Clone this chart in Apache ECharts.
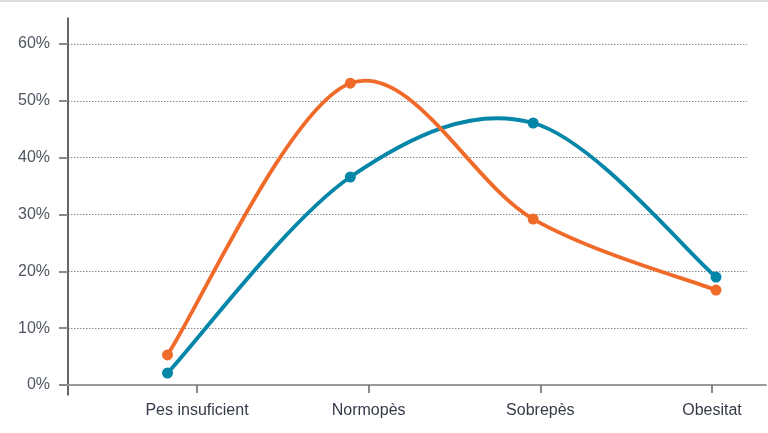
<!DOCTYPE html>
<html>
<head>
<meta charset="utf-8">
<script src="https://cdn.jsdelivr.net/npm/echarts@6/dist/echarts.min.js"></script>
<style>
html,body{margin:0;padding:0;background:#fff;}
#chart{width:768px;height:433px;}
</style>
</head>
<body>
<div id="chart"></div>
<script>
var categories = ['Pes insuficient', 'Normopès', 'Sobrepès', 'Obesitat'];
var seriesOrange = [5.3, 53.1, 29.2, 16.7];
var seriesBlue = [2.1, 36.6, 46.1, 19.0];

var FONT = "'Liberation Sans', Arial, sans-serif";
var BLUE = '#0386a8';
var ORANGE = '#f06a2a';
var chart = echarts.init(document.getElementById('chart'), null, {renderer: 'canvas'});

// Catmull-Rom style smooth segment between point i and i+1, computed from the data through the axes
function splineRenderer(values, color) {
  return function (params, api) {
    var i = params.dataIndex;
    var n = values.length;
    if (i >= n - 1) return null;
    function pt(k) {
      k = Math.max(0, Math.min(n - 1, k));
      return api.coord([k, values[k]]);
    }
    var p0 = pt(i - 1), p1 = pt(i), p2 = pt(i + 1), p3 = pt(i + 2);
    var c1x = p1[0] + (p2[0] - p0[0]) / 6;
    var c1y = p1[1] + (p2[1] - p0[1]) / 6;
    var c2x = p2[0] - (p3[0] - p1[0]) / 6;
    var c2y = p2[1] - (p3[1] - p1[1]) / 6;
    return {
      type: 'bezierCurve',
      shape: {x1: p1[0], y1: p1[1], x2: p2[0], y2: p2[1], cpx1: c1x, cpy1: c1y, cpx2: c2x, cpy2: c2y},
      style: {stroke: color, lineWidth: 3.8, fill: null, lineCap: 'round', lineJoin: 'round'}
    };
  };
}

function indexed(values) {
  return values.map(function (v, i) { return [i, v]; });
}

var option = {
  animation: false,
  backgroundColor: '#ffffff',
  graphic: [{
    type: 'rect', left: 0, top: 0,
    shape: {width: 768, height: 2},
    style: {fill: '#dcdcdc'}, silent: true
  }],
  grid: [
    {left: 68, right: 21, top: 44, bottom: 48},
    {left: 68, right: 2, top: 44, bottom: 48},
    {left: 197, right: 56, top: 44, bottom: 48},
    {left: 68, right: 2, top: 18, bottom: 38},
    {left: 167.5, right: 52, top: 44, bottom: 48}
  ],
  xAxis: [
    {gridIndex: 0, type: 'category', show: false, data: categories},
    {gridIndex: 1, type: 'value', min: 0, max: 1,
      axisLine: {show: true, lineStyle: {color: '#9a9a9a', width: 2}},
      axisTick: {show: false}, axisLabel: {show: false}, splitLine: {show: false}},
    {gridIndex: 2, type: 'category', data: categories, boundaryGap: false,
      axisLine: {show: false},
      axisTick: {show: true, length: 8, lineStyle: {color: '#666', width: 1.5}},
      axisLabel: {show: true, margin: 18, color: '#343a48', fontSize: 16, fontFamily: FONT},
      splitLine: {show: false}},
    {gridIndex: 3, type: 'value', show: false},
    {gridIndex: 4, type: 'category', show: false, data: categories, boundaryGap: false}
  ],
  yAxis: [
    {gridIndex: 0, type: 'value', min: 0, max: 60, interval: 10,
      axisLine: {show: false},
      axisTick: {show: true, length: 9, lineStyle: {color: '#8a8a8a', width: 2}},
      axisLabel: {show: true, margin: 18, color: '#505563', fontSize: 16, fontFamily: FONT,
        formatter: function (v) { return v + '%'; }},
      splitLine: {show: true, lineStyle: {color: '#8c8c8c', width: 1, type: [1.5, 1.5]}}},
    {gridIndex: 1, type: 'value', show: false, min: 0, max: 60},
    {gridIndex: 2, type: 'value', show: false, min: 0, max: 60},
    {gridIndex: 3, type: 'value', min: 0, max: 1,
      axisLine: {show: true, lineStyle: {color: '#333333', width: 1.5}},
      axisTick: {show: false}, axisLabel: {show: false}, splitLine: {show: false}},
    {gridIndex: 4, type: 'value', show: false, min: 0, max: 60}
  ],
  series: [
    {name: 'Sèrie blava', type: 'custom', xAxisIndex: 4, yAxisIndex: 4,
      data: indexed(seriesBlue), renderItem: splineRenderer(seriesBlue, BLUE), z: 3, silent: true},
    {name: 'Sèrie taronja', type: 'custom', xAxisIndex: 4, yAxisIndex: 4,
      data: indexed(seriesOrange), renderItem: splineRenderer(seriesOrange, ORANGE), z: 4, silent: true},
    {name: 'Sèrie blava', type: 'scatter', xAxisIndex: 4, yAxisIndex: 4,
      data: seriesBlue, symbol: 'circle', symbolSize: 11,
      itemStyle: {color: BLUE, opacity: 1}, z: 5},
    {name: 'Sèrie taronja', type: 'scatter', xAxisIndex: 4, yAxisIndex: 4,
      data: seriesOrange, symbol: 'circle', symbolSize: 11,
      itemStyle: {color: ORANGE, opacity: 1}, z: 6}
  ]
};
chart.setOption(option);
</script>
</body>
</html>
